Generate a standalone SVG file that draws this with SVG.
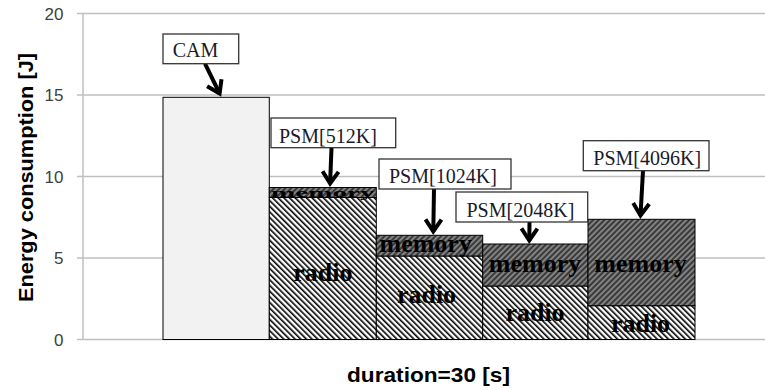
<svg xmlns="http://www.w3.org/2000/svg" width="765" height="390" viewBox="0 0 765 390">
<style>
.grid{stroke:#bfbfbf;stroke-width:1.5;fill:none}
.tick{font-family:"Liberation Sans",Arial,sans-serif;font-size:17px;fill:#404040;text-anchor:end}
.title{font-family:"Liberation Sans",Arial,sans-serif;font-size:21px;font-weight:bold;fill:#000}
.bar{stroke:#000;stroke-width:1}
.box{fill:#fff;stroke:#333;stroke-width:1.3}
.lbl{font-family:"Liberation Serif","Times New Roman",serif;font-size:20px;fill:#1a1a2a}
.seg{font-family:"Liberation Serif","Times New Roman",serif;font-size:26px;font-weight:bold;fill:#000;text-anchor:middle}
.arrow{stroke:#000;stroke-width:4;fill:none;marker-end:url(#head)}
</style>
<defs>
<pattern id="radio" patternUnits="userSpaceOnUse" width="4" height="4" patternTransform="rotate(-45)">
<rect width="4" height="4" fill="#fff"/>
<rect width="1.6" height="4" fill="#000"/>
</pattern>
<pattern id="mem" patternUnits="userSpaceOnUse" width="4" height="4" patternTransform="rotate(45)">
<rect width="4" height="4" fill="#3a3a3a"/>
<rect width="1.8" height="4" fill="#8a8a8a"/>
</pattern>
<marker id="head" markerUnits="userSpaceOnUse" markerWidth="30" markerHeight="30" viewBox="-18 -15 30 30" refX="0" refY="0" orient="auto">
<path d="M-12,-8 L0,0 L-12,8" stroke="#000" stroke-width="4" fill="none" stroke-linejoin="miter"/>
</marker>
</defs>

<g id="axes">
<line class="grid" x1="77" y1="13.5" x2="765" y2="13.5"/>
<line class="grid" x1="77" y1="95" x2="765" y2="95"/>
<line class="grid" x1="77" y1="176.5" x2="765" y2="176.5"/>
<line class="grid" x1="77" y1="258" x2="765" y2="258"/>
<line class="grid" x1="77" y1="339.5" x2="765" y2="339.5"/>
<line class="grid" x1="83" y1="13.5" x2="83" y2="339.5"/>
<text class="tick" x="63.5" y="19.5">20</text>
<text class="tick" x="63.5" y="101">15</text>
<text class="tick" x="63.5" y="182.5">10</text>
<text class="tick" x="63.5" y="264">5</text>
<text class="tick" x="63.5" y="345.5">0</text>
<text class="title" transform="translate(33,177.5) rotate(-90)" text-anchor="middle" textLength="249" lengthAdjust="spacingAndGlyphs">Energy consumption [J]</text>
<text class="title" x="428.5" y="382" text-anchor="middle" textLength="163" lengthAdjust="spacingAndGlyphs">duration=30 [s]</text>
</g>

<g id="bar-cam">
<rect class="bar" x="163" y="97.3" width="106.3" height="242.2" fill="#f2f2f2"/>
</g>
<g id="bar-psm512">
<rect class="bar" x="269.3" y="197.5" width="107" height="142" fill="url(#radio)"/>
<rect class="bar" x="269.3" y="187.5" width="107" height="10" fill="url(#mem)"/>
<text class="seg" x="322.8" y="281">radio</text>
<text class="seg" transform="translate(322.8,197) scale(1.12,0.45)" x="0" y="0">memory</text>
</g>
<g id="bar-psm1024">
<rect class="bar" x="376.3" y="256" width="106.4" height="83.5" fill="url(#radio)"/>
<rect class="bar" x="376.3" y="235.3" width="106.4" height="20.7" fill="url(#mem)"/>
<text class="seg" x="426.5" y="303">radio</text>
<text class="seg" x="425.7" y="252">memory</text>
</g>
<g id="bar-psm2048">
<rect class="bar" x="482.7" y="286" width="105.3" height="53.5" fill="url(#radio)"/>
<rect class="bar" x="482.7" y="244" width="105.3" height="42" fill="url(#mem)"/>
<text class="seg" x="535" y="321">radio</text>
<text class="seg" x="535" y="272">memory</text>
</g>
<g id="bar-psm4096">
<rect class="bar" x="588" y="305.7" width="107" height="33.8" fill="url(#radio)"/>
<rect class="bar" x="588" y="219.3" width="107" height="86.4" fill="url(#mem)"/>
<text class="seg" x="640.5" y="332">radio</text>
<text class="seg" x="640.5" y="272">memory</text>
</g>

<g id="connectors">
<path class="arrow" d="M205,63.7 L219.6,93.5"/>
<path class="arrow" d="M331.5,147.7 L330.1,183.5"/>
<path class="arrow" d="M434,189 L433.3,231.5"/>
<path class="arrow" d="M529.5,222 L529.3,240.5"/>
<path class="arrow" d="M643,170.7 L640.5,215.5"/>
</g>

<g id="label-cam">
<rect class="box" x="163" y="34" width="75.7" height="29.7"/>
<text class="lbl" x="172.7" y="56.5">CAM</text>
</g>
<g id="label-psm512">
<rect class="box" x="271" y="118" width="124.7" height="29.7"/>
<text class="lbl" x="279" y="143">PSM[512K]</text>
</g>
<g id="label-psm1024">
<rect class="box" x="379" y="159" width="132" height="30"/>
<text class="lbl" x="389" y="182.5">PSM[1024K]</text>
</g>
<g id="label-psm2048">
<rect class="box" x="456" y="192" width="131.7" height="30"/>
<text class="lbl" x="466.5" y="216.5">PSM[2048K]</text>
</g>
<g id="label-psm4096">
<rect class="box" x="583.3" y="140.7" width="125.7" height="30"/>
<text class="lbl" x="593.3" y="164.5">PSM[4096K]</text>
</g>
</svg>
